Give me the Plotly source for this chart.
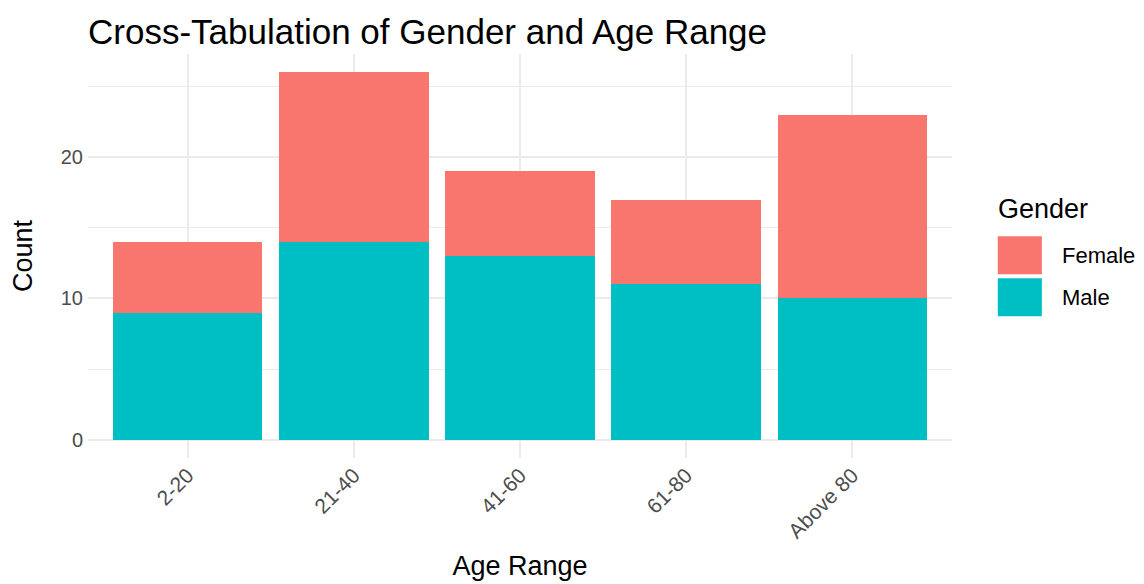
import plotly.graph_objects as go

age_ranges = ["2-20", "21-40", "41-60", "61-80", "Above 80"]
male_counts = [9, 14, 13, 11, 10]
female_counts = [5, 12, 6, 6, 13]
series_names = ["Female", "Male"]
series_colors = ["#F8766D", "#00BFC4"]

FONT = "Liberation Sans, Arial, sans-serif"

fig = go.Figure()
fig.add_trace(go.Bar(x=age_ranges, y=male_counts, name="Male",
                     marker=dict(color=series_colors[1], line=dict(width=0)),
                     width=0.9, showlegend=False))
fig.add_trace(go.Bar(x=age_ranges, y=female_counts, name="Female",
                     marker=dict(color=series_colors[0], line=dict(width=0)),
                     width=0.9, showlegend=False))

# manual ggplot-style legend
lx0, lx1 = 1.053, 1.104
key_tops = [0.549, 0.445]
key_h = 0.094
for name, col, top in zip(series_names, series_colors, key_tops):
    fig.add_shape(type="rect", xref="paper", yref="paper",
                  x0=lx0, x1=lx1, y0=top - key_h, y1=top,
                  fillcolor=col, line=dict(width=0))
    fig.add_annotation(xref="paper", yref="paper", x=1.125, y=top - key_h / 2,
                       text=name, showarrow=False, xanchor="left", yanchor="middle",
                       font=dict(family=FONT, size=22, color="#000000"))
fig.add_annotation(xref="paper", yref="paper", x=1.051, y=0.617,
                   text="Gender", showarrow=False, xanchor="left", yanchor="middle",
                   font=dict(family=FONT, size=27, color="#000000"))

fig.update_layout(
    barmode="stack",
    width=1144, height=584,
    margin=dict(l=80, r=200, t=46, b=134, autoexpand=False),
    paper_bgcolor="white", plot_bgcolor="white",
    title=dict(text="Cross-Tabulation of Gender and Age Range",
               x=0, xref="paper", xanchor="left", y=0.96, yanchor="middle",
               font=dict(family=FONT, size=35, color="#000000")),
    font=dict(family=FONT),
    bargap=0.1,
)
fig.update_xaxes(
    type="category", range=[-0.6, 4.6], automargin=False,
    showgrid=True, gridcolor="#EBEBEB", gridwidth=1.6,
    zeroline=False, showline=False, ticks="",
    tickangle=-45, tickfont=dict(family=FONT, size=21, color="#4D4D4D"),
    title=dict(text="Age Range", font=dict(family=FONT, size=27, color="#000000"), standoff=14),
)
fig.update_yaxes(
    range=[-1.3, 27.3], tickvals=[0, 10, 20], automargin=False,
    showgrid=True, gridcolor="#EBEBEB", gridwidth=1.6,
    minor=dict(tickvals=[5, 15, 25], showgrid=True, gridcolor="#EBEBEB", gridwidth=0.8),
    zeroline=False, showline=False, ticks="", ticklabelstandoff=4,
    tickfont=dict(family=FONT, size=20, color="#4D4D4D"),
    title=dict(text="Count", font=dict(family=FONT, size=27, color="#000000"), standoff=25),
)

fig.write_html("out.html")
